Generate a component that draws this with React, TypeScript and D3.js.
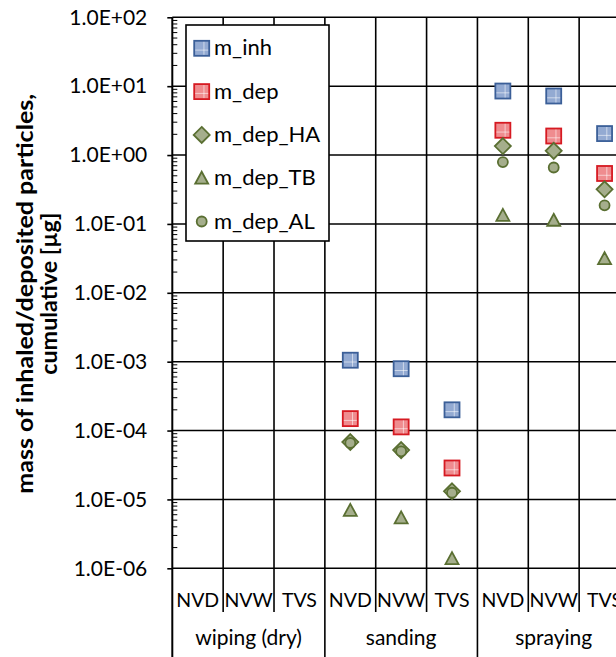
import { useEffect, useRef } from 'react';
import * as d3 from 'd3';

// categories (x) and groups
const methods = ['NVD', 'NVW', 'TVS'];
const activities = ['wiping (dry)', 'sanding', 'spraying'];

// series values, one per activity/method pair (null = no value)
const mInh = [null, null, null, 1.05e-3, 7.9e-4, 2.0e-4, 8.5, 7.2, 2.05];
const mDep = [null, null, null, 1.49e-4, 1.13e-4, 2.86e-5, 2.29, 1.89, 0.54];
const mDepHA = [null, null, null, 6.8e-5, 5.2e-5, 1.31e-5, 1.35, 1.15, 0.318];
const mDepTB = [null, null, null, 6.95e-6, 5.4e-6, 1.38e-6, 0.133, 0.113, 0.0313];
const mDepAL = [null, null, null, 6.6e-5, 5.0e-5, 1.25e-5, 0.79, 0.66, 0.186];

const seriesNames = ['m_inh', 'm_dep', 'm_dep_HA', 'm_dep_TB', 'm_dep_AL'];

// y ticks (decades)
const yTicks = [1e-6, 1e-5, 1e-4, 1e-3, 1e-2, 1e-1, 1e0, 1e1, 1e2];

const FONT = 'Lato, "Open Sans", sans-serif';

const fmtSci = (v: number) => {
  const e = Math.round(Math.log10(v));
  const sign = e < 0 ? '-' : '+';
  return `1.0E${sign}${String(Math.abs(e)).padStart(2, '0')}`;
};

const App = () => {
  const svgRef = useRef<SVGSVGElement>(null);

  useEffect(() => {
    const svg = d3.select(svgRef.current);
    svg.selectAll('*').remove();

    const left = 172.3, right = 630, top = 17.3, bottom = 568.3;

    const cats = activities.flatMap(a => methods.map(m => `${a}|${m}`));
    const x = d3.scaleBand().domain(cats).range([left, right]);
    const y = d3.scaleLog().domain([1e-6, 1e2]).range([bottom, top]);

    const styles = [
      { shape: 'square', fill: '#93aad2', stroke: '#3b5f98', size: 15 },
      { shape: 'square', fill: '#ef8c8f', stroke: '#d61a22', size: 15 },
      { shape: 'diamond', fill: '#a5ae8c', stroke: '#5a6f32', size: 14 },
      { shape: 'triangle', fill: '#a5ae8c', stroke: '#5a6f32', size: 13 },
      { shape: 'circle', fill: '#a5ae8c', stroke: '#5a6f32', size: 10 },
    ];
    const series = [mInh, mDep, mDepHA, mDepTB, mDepAL];

    const g = svg.append('g');

    // horizontal grid at decades
    g.selectAll('line.hgrid')
      .data(yTicks)
      .enter().append('line')
      .attr('x1', left).attr('x2', right)
      .attr('y1', d => y(d)).attr('y2', d => y(d))
      .attr('stroke', '#000').attr('stroke-width', 1.6);

    // vertical category separators through plot and label area
    const bounds = d3.range(cats.length + 1).map(i => left + i * x.bandwidth());
    g.selectAll('line.vsep')
      .data(bounds)
      .enter().append('line')
      .attr('x1', d => d).attr('x2', d => d)
      .attr('y1', top)
      .attr('y2', (d, i) => (i % 3 === 0 ? 657 : 612))
      .attr('stroke', '#000')
      .attr('stroke-width', (d, i) => (i === 0 ? 2 : 1.6));

    // y axis
    const yAxis = g.append('g')
      .attr('transform', `translate(${left},0)`)
      .call(d3.axisLeft(y).tickValues(yTicks).tickFormat(d => fmtSci(+d)).tickSize(5).tickPadding(20));
    yAxis.select('.domain').remove();
    yAxis.selectAll('.tick line').attr('stroke', '#000').attr('stroke-width', 1.6);
    yAxis.selectAll('.tick text')
      .attr('font-family', FONT).attr('font-size', '21px').attr('fill', '#000');

    // minor ticks (inside)
    const minors = yTicks.slice(0, -1).flatMap(d => d3.range(2, 10).map(k => d * k));
    g.selectAll('line.minor')
      .data(minors)
      .enter().append('line')
      .attr('x1', left).attr('x2', left + 5)
      .attr('y1', d => y(d)).attr('y2', d => y(d))
      .attr('stroke', '#000').attr('stroke-width', 1);

    // x labels
    g.selectAll('text.method')
      .data(cats)
      .enter().append('text')
      .attr('x', d => x(d)! + x.bandwidth() / 2)
      .attr('y', 607)
      .attr('text-anchor', 'middle')
      .attr('font-family', FONT).attr('font-size', '19.5px')
      .text(d => d.split('|')[1]);

    g.selectAll('text.activity')
      .data(activities)
      .enter().append('text')
      .attr('x', (d, i) => left + (i * 3 + 1.5) * x.bandwidth())
      .attr('y', 645)
      .attr('text-anchor', 'middle')
      .attr('font-family', FONT).attr('font-size', '21px')
      .text(d => d);

    // y title
    const yt = g.append('text')
      .attr('transform', `translate(33,${(top + bottom) / 2 + 1}) rotate(-90)`)
      .attr('text-anchor', 'middle')
      .attr('font-family', FONT).attr('font-size', '22.5px').attr('font-weight', 'bold');
    yt.append('tspan').attr('x', 0).attr('dy', 0)
      .attr('textLength', 400).attr('lengthAdjust', 'spacingAndGlyphs')
      .text('mass of inhaled/deposited particles,');
    yt.append('tspan').attr('x', 0).attr('dy', 24)
      .attr('textLength', 162).attr('lengthAdjust', 'spacingAndGlyphs')
      .text('cumulative [µg]');

    const drawMarker = (sel: any, st: any, cx: number, cy: number) => {
      const s = st.size;
      if (st.shape === 'square') {
        sel.append('rect')
          .attr('x', cx - s / 2).attr('y', cy - s / 2)
          .attr('width', s).attr('height', s)
          .attr('fill', st.fill).attr('stroke', st.stroke).attr('stroke-width', 1.8);
        sel.append('line')
          .attr('x1', cx + s * 0.15).attr('x2', cx + s * 0.15)
          .attr('y1', cy - s / 2 + 1).attr('y2', cy + s / 2 - 1)
          .attr('stroke', '#fff').attr('stroke-opacity', 0.55).attr('stroke-width', 1);
        sel.append('line')
          .attr('x1', cx - s / 2 + 1).attr('x2', cx + s / 2 - 1)
          .attr('y1', cy + s * 0.12).attr('y2', cy + s * 0.12)
          .attr('stroke', '#fff').attr('stroke-opacity', 0.55).attr('stroke-width', 1);
      } else if (st.shape === 'diamond') {
        const h = s / 2 + 1;
        sel.append('path')
          .attr('d', `M${cx},${cy - h}L${cx + h},${cy}L${cx},${cy + h}L${cx - h},${cy}Z`)
          .attr('fill', st.fill).attr('stroke', st.stroke).attr('stroke-width', 1.8);
      } else if (st.shape === 'triangle') {
        sel.append('path')
          .attr('d', `M${cx},${cy - s / 2}L${cx + s / 2},${cy + s / 2 - 1}L${cx - s / 2},${cy + s / 2 - 1}Z`)
          .attr('fill', st.fill).attr('stroke', st.stroke).attr('stroke-width', 1.8);
      } else {
        sel.append('circle')
          .attr('cx', cx).attr('cy', cy).attr('r', s / 2)
          .attr('fill', st.fill).attr('stroke', st.stroke).attr('stroke-width', 1.8);
      }
    };

    // points
    const pts = g.append('g');
    series.forEach((vals, si) => {
      vals.forEach((v, ci) => {
        if (v == null) return;
        const cx = x(cats[ci])! + x.bandwidth() / 2;
        drawMarker(pts, styles[si], cx, y(v));
      });
    });

    // legend
    const lg = g.append('g');
    lg.append('rect')
      .attr('x', 186).attr('y', 25).attr('width', 143).attr('height', 216)
      .attr('fill', '#fff').attr('stroke', '#000').attr('stroke-width', 1.6);
    seriesNames.forEach((name, i) => {
      const cy = 48.3 + i * 43.3;
      drawMarker(lg, styles[i], 201.7, cy);
      lg.append('text')
        .attr('x', 214).attr('y', cy + 7)
        .attr('font-family', FONT).attr('font-size', '22px')
        .text(name);
    });
  }, []);

  return (
    <div style={{ position: 'fixed', left: 0, top: 0, width: 616, height: 657, overflow: 'hidden', background: '#fff' }}>
      <svg ref={svgRef} width={640} height={657} style={{ display: 'block' }} />
    </div>
  );
};

export default App;
